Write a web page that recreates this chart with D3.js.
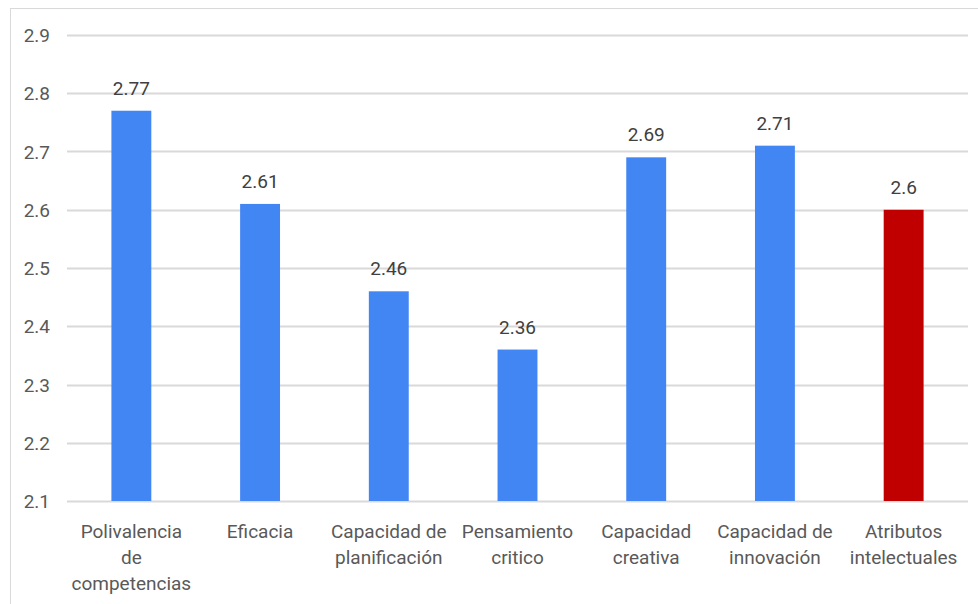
<!DOCTYPE html>
<html>
<head>
<meta charset="utf-8">
<script src="https://cdn.jsdelivr.net/npm/d3@7"></script>
<style>
  body { margin: 0; background: #fff; }
  text { font-family: Roboto, "Liberation Sans", sans-serif; }
</style>
</head>
<body>
<script>
// chart data
let categories = [
  "Polivalencia de competencias",
  "Eficacia",
  "Capacidad de planificación",
  "Pensamiento critico",
  "Capacidad creativa",
  "Capacidad de innovación",
  "Atributos intelectuales"
];
let labelLines = [
  ["Polivalencia", "de", "competencias"],
  ["Eficacia"],
  ["Capacidad de", "planificación"],
  ["Pensamiento", "critico"],
  ["Capacidad", "creativa"],
  ["Capacidad de", "innovación"],
  ["Atributos", "intelectuales"]
];
let values = [2.77, 2.61, 2.46, 2.36, 2.69, 2.71, 2.6];
let yTicks = [2.1, 2.2, 2.3, 2.4, 2.5, 2.6, 2.7, 2.8, 2.9];

let w = 978, h = 604;
let plotLeft = 67, plotRight = 968, plotTop = 35, plotBottom = 501;

let svg = d3.select('body').append('svg')
  .attr('width', w)
  .attr('height', h);

// chart area border (right and bottom fall outside the picture)
svg.append('rect')
  .attr('x', 10.5).attr('y', 8.5)
  .attr('width', 1000).attr('height', 700)
  .attr('fill', 'none')
  .attr('stroke', '#d9d9d9');

let x = d3.scaleBand()
  .domain(categories)
  .range([plotLeft, plotRight])
  .paddingInner(0.69)
  .paddingOuter(0.345);

let y = d3.scaleLinear()
  .domain([2.1, 2.9])
  .range([plotBottom, plotTop]);

// gridlines
svg.selectAll('line.grid')
  .data(yTicks)
  .join('line')
    .attr('class', 'grid')
    .attr('x1', plotLeft).attr('x2', plotRight)
    .attr('y1', d => Math.round(y(d)) + 0.5)
    .attr('y2', d => Math.round(y(d)) + 0.5)
    .attr('stroke', '#d9d9d9')
    .attr('stroke-width', 2);

// y tick labels
svg.selectAll('text.ytick')
  .data(yTicks)
  .join('text')
    .attr('class', 'ytick')
    .attr('x', 50)
    .attr('y', d => y(d) + 7)
    .attr('text-anchor', 'end')
    .attr('font-size', 19)
    .attr('fill', '#595959')
    .text(d => d.toFixed(1));

// bars
svg.selectAll('rect.bar')
  .data(values)
  .join('rect')
    .attr('class', 'bar')
    .attr('x', (d, i) => x(categories[i]))
    .attr('width', x.bandwidth())
    .attr('y', d => y(d))
    .attr('height', d => y(2.1) - y(d))
    .attr('fill', (d, i) => i == values.length - 1 ? '#c00000' : '#4286f4');

// value labels
svg.selectAll('text.val')
  .data(values)
  .join('text')
    .attr('class', 'val')
    .attr('x', (d, i) => x(categories[i]) + x.bandwidth() / 2)
    .attr('y', d => y(d) - 16)
    .attr('text-anchor', 'middle')
    .attr('font-size', 19)
    .attr('fill', '#404040')
    .text(d => d);

// category labels
let cat = svg.selectAll('text.cat')
  .data(categories)
  .join('text')
    .attr('class', 'cat')
    .attr('x', d => x(d) + x.bandwidth() / 2)
    .attr('y', 538)
    .attr('text-anchor', 'middle')
    .attr('font-size', 19)
    .attr('fill', '#595959');

cat.selectAll('tspan')
  .data((d, i) => labelLines[i])
  .join('tspan')
    .attr('x', function() { return d3.select(this.parentNode).attr('x'); })
    .attr('dy', (d, j) => j == 0 ? 0 : 26)
    .text(d => d);
</script>
</body>
</html>
